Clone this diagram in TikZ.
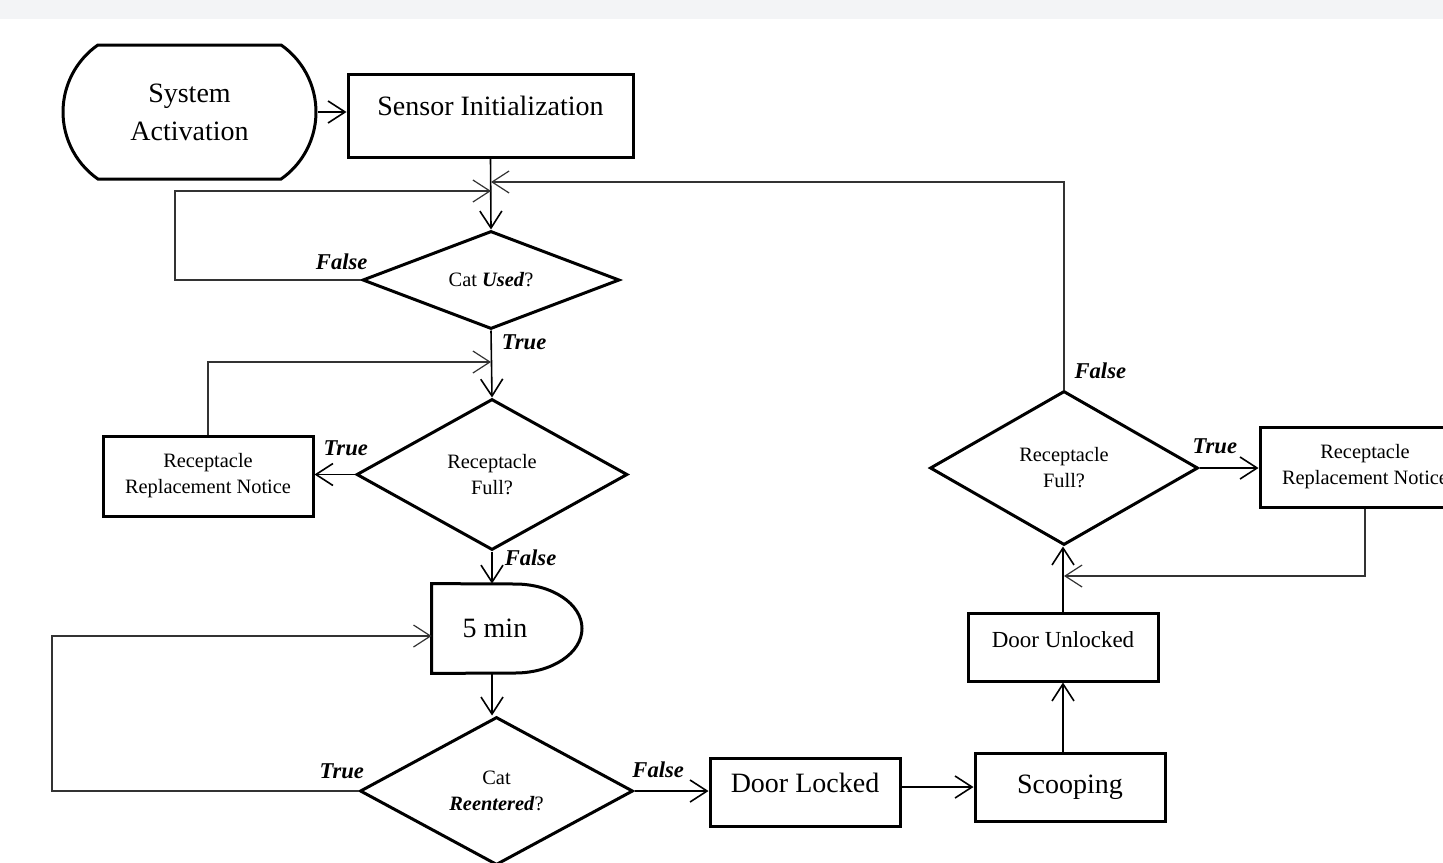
\documentclass[tikz,border=0pt]{standalone}
\usepackage{fontspec}
\setmainfont{Liberation Serif}
\usetikzlibrary{arrows.meta}
\usetikzlibrary{positioning}
\usetikzlibrary{shapes.geometric}
\usetikzlibrary{shapes.misc}
\tikzset{>={Straight Barb[length=8.5pt,width=11pt]}}
\definecolor{bandgray}{HTML}{F3F4F6}
\definecolor{railgray}{HTML}{333333}

\begin{document}
\begin{tikzpicture}[
        x=0.5pt, y=-0.5pt,
        box/.style={draw,line width=1.5pt,inner sep=0pt,minimum width=95pt,minimum height=34pt,font=\fontsize{14}{19}\selectfont},
        notebox/.style={box,minimum width=105pt,minimum height=40pt,align=center,font=\fontsize{10.2}{13}\selectfont},
        decision/.style={draw,diamond,line width=1.5pt,inner sep=0pt,align=center,font=\fontsize{10.2}{13}\selectfont},
        raised/.style={text height=8pt,text depth=8pt},
        flow/.style={line width=0.8pt,->},
        rail/.style={line width=0.6pt,draw=railgray,->},
        answer/.style={font=\fontsize{11.3}{13}\selectfont\bfseries\itshape,inner sep=1pt}
    ]
    \clip (0,0) rectangle (1443,862);
    \fill[bandgray] (0,0) rectangle (1443,19);

    \node[box,rounded rectangle,rounded rectangle arc length=110,minimum width=126.5pt,minimum height=67pt,align=center] (sys) at (189.5,112) {System\\Activation};
    \node[box,raised,minimum width=142.5pt,minimum height=41.5pt] (init) at (490.5,115.5) {Sensor Initialization};

    \node[decision,aspect=2.6,minimum width=128.5pt,minimum height=49pt] (used) at (491,280) {Cat \textbf{\textit{Used}}?};
    \node[decision,minimum width=135.5pt,minimum height=75.5pt] (fullL) at (492,474.5) {Receptacle\\Full?};
    \node[notebox] (noteL) at (208,476) {Receptacle\\Replacement Notice};

    % delay box: flat left side, elliptic right side
    \node[inner sep=0pt,minimum width=75pt,minimum height=44.5pt] (wait) at (507,628.5) {\fontsize{14}{19}\selectfont\hspace*{-12pt}5 min};
    \draw[line width=1.5pt] (wait.north west) -- (515,584) arc[start angle=90,end angle=-90,x radius=33.5pt,y radius=22.25pt] -- (wait.south west) -- cycle;

    \node[decision,minimum width=136.5pt,minimum height=74pt] (reent) at (496.5,791) {Cat\\\textbf{\textit{Reentered}}?};
    \node[box,raised] (locked) at (805,792) {Door Locked};
    \node[box] (scoop) at (1070,787) {Scooping};
    \node[box,raised,font=\fontsize{11.5}{14}\selectfont] (unlocked) at (1063,647) {Door Unlocked};
    \node[decision,minimum width=134pt,minimum height=77pt] (fullR) at (1064,468) {Receptacle\\Full?};
    \node[notebox] (noteR) at (1365,467) {Receptacle\\Replacement Notice};

    \coordinate (jA) at (491,191);
    \coordinate (jB) at (491,182);
    \coordinate (jC) at (491,362);
    \coordinate (jD) at (1064,576);
    \coordinate (railA) at (175,191);
    \coordinate (railB) at (52,636);

    \draw[flow] (sys.east) -- (sys.east -| init.west);
    \draw[flow] (init.south) -- (used.north);
    \draw[rail] (used.west) -| node[answer,pos=0,above left=4pt and -4.5pt] (fUsed) {False} (railA) -- (jA);
    \draw[rail] (fullR.north) |- node[answer,pos=0,above right=4pt and 4pt] (fFullR) {False} (jB);

    \draw[flow] (used.south) -- node[answer,pos=0.17,right=4pt] (tUsed) {True} (fullL.north);
    \draw[flow] (fullL.west) -- node[answer,pos=0.23,above=8pt] (tFullL) {True} (fullL.west -| noteL.east);
    \draw[rail] (noteL.north) |- (jC);
    \draw[flow] (fullL.south) -- node[answer,pos=0.2,right=5pt] (fFullL) {False} (fullL.south |- wait.north);
    \draw[flow] (fullL.south |- wait.south) -- (fullL.south |- reent.north);

    \draw[rail] (reent.west) -| node[answer,pos=0,above left=5pt and -4pt] (tReent) {True} (railB) -- (railB -| wait.west);
    \draw[flow] (reent.east) -- node[answer,pos=0.32,above=5pt] (fReent) {False} (reent.east -| locked.west);
    \draw[flow] (locked.east |- scoop.west) -- (scoop.west);
    \draw[flow] (unlocked.south |- scoop.north) -- (unlocked.south);
    \draw[flow] (unlocked.north) -- (unlocked.north |- fullR.south);
    \draw[rail] (noteR.south) |- (jD);
    \draw[flow] (fullR.east) -- node[answer,pos=0.26,above=5.5pt] (tFullR) {True} (fullR.east -| noteR.west);
\end{tikzpicture}
\end{document}
